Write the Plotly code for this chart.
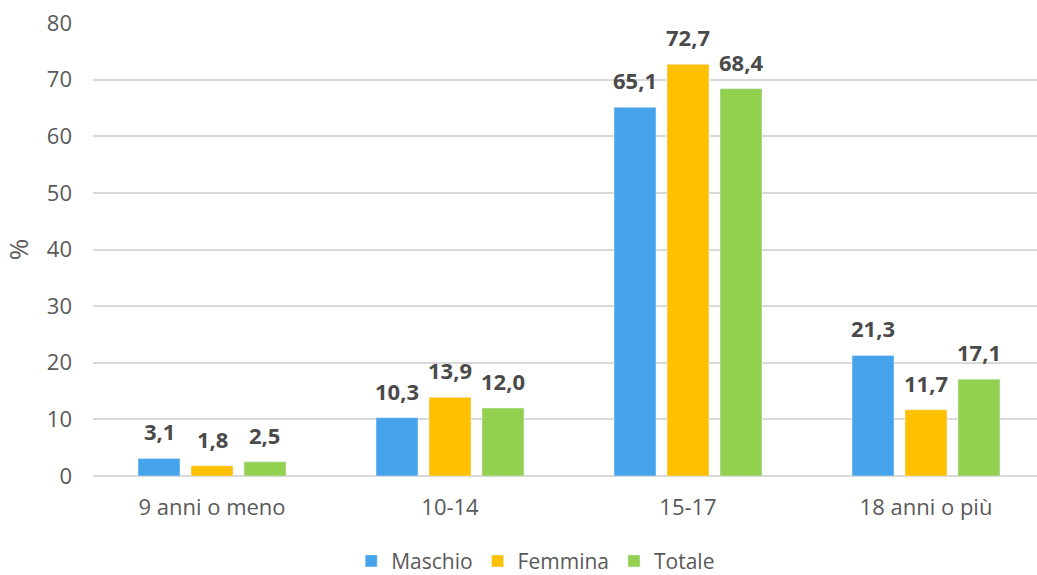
import plotly.graph_objects as go

categories = ["9 anni o meno", "10-14", "15-17", "18 anni o più"]
maschio = [3.1, 10.3, 65.1, 21.3]
femmina = [1.8, 13.9, 72.7, 11.7]
totale = [2.5, 12.0, 68.4, 17.1]
series = [("Maschio", maschio, "#45A3EB"), ("Femmina", femmina, "#FFC000"), ("Totale", totale, "#92D050")]

BARGAP = 0.332
fig = go.Figure()
for name, vals, col in series:
    fig.add_trace(go.Bar(name=name, x=categories, y=vals, marker_color=col))

# data labels as annotations positioned on the category axis
slot = (1 - BARGAP) / len(series)
for si, (name, vals, col) in enumerate(series):
    off = (si - (len(series) - 1) / 2) * slot
    for ci, v in enumerate(vals):
        fig.add_annotation(x=ci + off, y=v, xref="x", yref="y",
                           text=f"{v:.1f}".replace(".", ","), showarrow=False,
                           yanchor="middle", yshift=27,
                           font=dict(family="Open Sans", size=22, color="#4A4A4A", weight="bold"))

fig.update_layout(
    width=1045, height=575,
    margin=dict(l=93, r=0, t=23, b=99, autoexpand=False),
    plot_bgcolor="white", paper_bgcolor="white",
    barmode="group", bargap=BARGAP, bargroupgap=0.208,
    font=dict(family="Open Sans", size=22, color="#595959"),
    legend=dict(orientation="h", x=0.465, xanchor="center", y=-0.143, yanchor="top",
                font=dict(size=21, color="#595959"), traceorder="normal", itemwidth=30),
)
fig.update_yaxes(range=[0, 80], dtick=10, showgrid=True, gridcolor="#D9D9D9", gridwidth=1.5,
                 zeroline=True, zerolinecolor="#D9D9D9", zerolinewidth=1.5, automargin=False,
                 title=dict(text="%", standoff=16), tickfont=dict(size=22, color="#595959"), ticklabelstandoff=20)
fig.update_xaxes(showgrid=False, automargin=False, tickfont=dict(size=22, color="#595959"), ticklabelstandoff=16)

fig.write_html("out.html", config={"displayModeBar": False},
               post_script="document.body.style.margin='0';document.body.style.overflow='hidden';")
